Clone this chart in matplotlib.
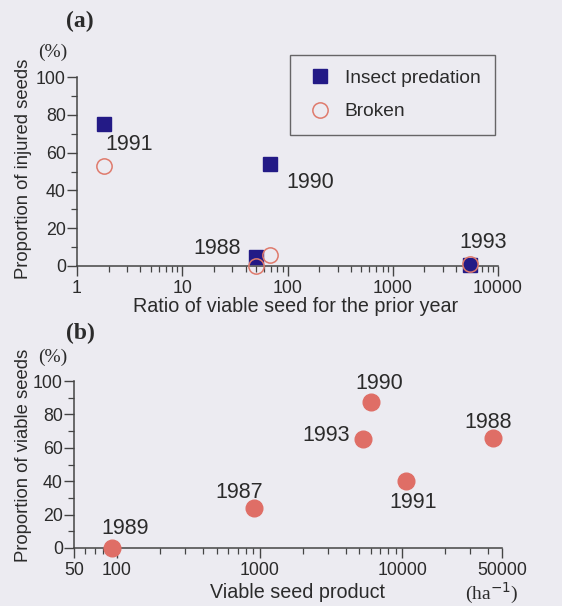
import numpy as np
import matplotlib.pyplot as plt
from matplotlib.ticker import FixedLocator, LogLocator, MultipleLocator, NullFormatter

# Panel (a) data
ratio_years = ['1991', '1990', '1988', '1993']
ratio_prior = [1.8, 68, 50, 5400]
insect_predation = [75, 54, 5, 0.5]
broken = [53, 6, 0, 1]

# Panel (b) data
prod_years = ['1989', '1987', '1993', '1990', '1991', '1988']
seed_product = [92, 910, 5300, 6000, 10700, 43000]
viable_prop = [0, 24, 65.5, 87.5, 40, 66]

# label offsets (pixels)
a_offsets = [(25, -20), (40, -19), (-39, 8), (13, 23)]
b_offsets = [(13, 19), (-15, 15), (-37, 3), (9, 18), (7, -21), (-5, 15)]

W, H = 562, 606
bg = '#ecebf1'
ink = '#2b2b2b'
sans = ['Liberation Sans', 'DejaVu Sans']
serif = ['Liberation Serif', 'DejaVu Serif']

plt.rcParams['font.family'] = sans
plt.rcParams['text.color'] = ink
plt.rcParams['axes.edgecolor'] = '#444444'
plt.rcParams['xtick.color'] = '#444444'
plt.rcParams['ytick.color'] = '#444444'
plt.rcParams['xtick.labelcolor'] = ink
plt.rcParams['ytick.labelcolor'] = ink


def px(x, y):
    return x / W, 1 - y / H


def axes_px(fig, left, top, right, bottom):
    return fig.add_axes([left / W, 1 - bottom / H, (right - left) / W, (bottom - top) / H])


def style_axes(ax):
    ax.set_facecolor('none')
    for s in ['top', 'right']:
        ax.spines[s].set_visible(False)
    for s in ['left', 'bottom']:
        ax.spines[s].set_linewidth(1.1)
    ax.tick_params(which='major', direction='out', length=7, width=1.0, labelsize=12.8)
    ax.tick_params(axis='y', which='major', pad=1)
    ax.tick_params(axis='x', which='major', pad=3)
    ax.tick_params(which='minor', direction='out', length=4, width=0.9)
    ax.set_ylim(0, 100)
    ax.yaxis.set_major_locator(MultipleLocator(20))
    ax.yaxis.set_minor_locator(MultipleLocator(10))


fig = plt.figure(figsize=(W / 100, H / 100), dpi=100, facecolor=bg)

# Panel (a)
ax1 = axes_px(fig, 77, 77, 498, 266)
style_axes(ax1)
ax1.set_xscale('log')
ax1.set_xlim(1, 10000)
ax1.xaxis.set_major_locator(FixedLocator([1, 10, 100, 1000, 10000]))
ax1.set_xticklabels(['1', '10', '100', '1000', '10000'])
ax1.xaxis.set_minor_locator(LogLocator(base=10, subs=np.arange(2, 10)))
ax1.xaxis.set_minor_formatter(NullFormatter())

ax1.plot(ratio_prior, insect_predation, 's', ms=9.5, color='#231a86', mec='#231a86',
         clip_on=False, zorder=3, label='Insect predation')
ax1.plot(ratio_prior, broken, 'o', ms=11, mfc='none', mec='#df7a6c', mew=1.1,
         clip_on=False, zorder=4, label='Broken')
for yr, xv, yv, off in zip(ratio_years, ratio_prior, insect_predation, a_offsets):
    ax1.annotate(yr, (xv, yv), xytext=off, textcoords='offset pixels',
                 ha='center', va='center', fontsize=15.5, color=ink)

leg = ax1.legend(loc='upper left', bbox_to_anchor=px(290, 55), bbox_transform=fig.transFigure,
                 borderaxespad=0, frameon=True, fancybox=False, fontsize=13.8,
                 borderpad=0.75, labelspacing=0.85, handletextpad=0.5, handlelength=1.6)
leg.get_frame().set_edgecolor('#444444')
leg.get_frame().set_facecolor('none')
leg.get_frame().set_linewidth(1.0)

fig.text(*px(80, 21), '(a)', fontfamily=serif, fontweight='bold', fontsize=17, ha='center', va='center')
fig.text(*px(53, 52), '(%)', fontfamily=serif, fontsize=14, ha='center', va='center')
fig.text(*px(24, 169), 'Proportion of injured seeds', rotation=90, ha='center', va='center', fontsize=13.3)
fig.text(*px(296, 306), 'Ratio of viable seed for the prior year', ha='center', va='center', fontsize=14.2)

# Panel (b)
ax2 = axes_px(fig, 74, 381, 502, 548)
style_axes(ax2)
ax2.set_xscale('log')
ax2.set_xlim(50, 50000)
ax2.xaxis.set_major_locator(FixedLocator([50, 100, 1000, 10000, 50000]))
ax2.set_xticklabels(['50', '100', '1000', '10000', '50000'])
ax2.xaxis.set_minor_locator(LogLocator(base=10, subs=np.arange(2, 10)))
ax2.xaxis.set_minor_formatter(NullFormatter())

ax2.plot(seed_product, viable_prop, 'o', ms=12, color='#df6e66', clip_on=False, zorder=3)
for yr, xv, yv, off in zip(prod_years, seed_product, viable_prop, b_offsets):
    ax2.annotate(yr, (xv, yv), xytext=off, textcoords='offset pixels',
                 ha='center', va='center', fontsize=15.5, color=ink)

fig.text(*px(80, 333), '(b)', fontfamily=serif, fontweight='bold', fontsize=17, ha='center', va='center')
fig.text(*px(53, 357), '(%)', fontfamily=serif, fontsize=14, ha='center', va='center')
fig.text(*px(24, 455), 'Proportion of viable seeds', rotation=90, ha='center', va='center', fontsize=13.3)
fig.text(*px(298, 593), 'Viable seed product', ha='center', va='center', fontsize=14.2)
fig.text(*px(492, 593), '(ha$^{-1}$)', fontfamily=serif, fontsize=14, ha='center', va='center')

fig.savefig('out.png', dpi=100, facecolor=bg)
